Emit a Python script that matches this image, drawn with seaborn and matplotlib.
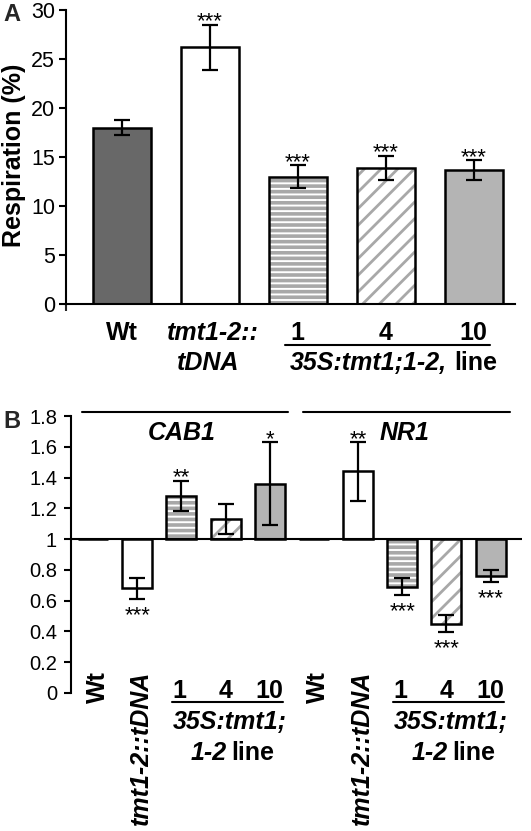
import matplotlib
matplotlib.use("Agg")
import matplotlib.pyplot as plt
import seaborn as sns
import pandas as pd
import numpy as np
from matplotlib.transforms import blended_transform_factory
from matplotlib.patches import Rectangle

sns.set_theme(style="white")
plt.rcParams["font.family"] = ["Liberation Sans", "DejaVu Sans"]
plt.rcParams["hatch.linewidth"] = 2.6

# ---------------- data ----------------
a_keys = ["Wt", "tmt1-2::tDNA", "1", "4", "10"]
a_values = [18.0, 26.2, 13.0, 13.9, 13.7]
a_errors = [0.8, 2.3, 1.15, 1.25, 1.0]
a_stars = ["", "***", "***", "***", "***"]

b_genes = ["CAB1"] * 5 + ["NR1"] * 5
b_lines = ["Wt", "tmt1-2::tDNA", "1", "4", "10"] * 2
b_values = [1.0, 0.68, 1.28, 1.13, 1.36, 1.0, 1.44, 0.69, 0.45, 0.76]
b_errors = [0.0, 0.07, 0.10, 0.10, 0.27, 0.0, 0.19, 0.055, 0.056, 0.04]
b_stars = ["", "***", "**", "", "*", "", "**", "***", "***", "***"]
b_baseline = 1.0

fills = ["#686868", "white", "white", "white", "#b4b4b4"]
hatches = [None, None, "---", "//", None]
hatch_lw = [None, None, 2.6, 2.0, None]
hatch_color = "#a8a8a8"

W, H = 531, 831
fig = plt.figure(figsize=(W / 100, H / 100), dpi=100)


def px_ax(left, right, top, bottom):
    return fig.add_axes([left / W, 1 - bottom / H, (right - left) / W, (bottom - top) / H])


def style_bars(ax, n_groups):
    bars = sorted([p for p in ax.patches], key=lambda p: p.get_x())
    for i, patch in enumerate(bars):
        k = i % n_groups
        patch.set_facecolor(fills[k])
        if hatches[k]:
            patch.set_hatch(hatches[k])
            patch.set_edgecolor(hatch_color)
            patch.set_linewidth(0)
            if hasattr(patch, "set_hatch_linewidth"):
                patch.set_hatch_linewidth(hatch_lw[k])
            ax.add_patch(Rectangle(patch.get_xy(), patch.get_width(), patch.get_height(),
                                   fill=False, edgecolor="black", linewidth=1.8,
                                   zorder=patch.get_zorder() + 0.1))
        else:
            patch.set_edgecolor("black")
            patch.set_linewidth(1.8)


def add_stars(ax, xs, vals, errs, stars, base, size=16):
    for x, v, e, s in zip(xs, vals, errs, stars):
        if not s:
            continue
        if v >= base:
            ax.annotate(s, (x, v + e), xytext=(0, -2), textcoords="offset points",
                        ha="center", va="baseline", fontsize=size, color="black")
        else:
            ax.annotate(s, (x, v - e), xytext=(0, -16), textcoords="offset points",
                        ha="center", va="baseline", fontsize=size, color="black")


# ---------------- Panel A ----------------
axA = px_ax(66, 515, 10, 304)
dfA = pd.DataFrame({"key": a_keys, "value": a_values})
sns.barplot(data=dfA, x="key", y="value", order=a_keys, hue="key", hue_order=a_keys,
            legend=False, width=0.66, errorbar=None, ax=axA, palette=dict(zip(a_keys, fills)))
style_bars(axA, 5)
xa = np.arange(len(a_keys))
axA.errorbar(xa, a_values, yerr=a_errors, fmt="none", ecolor="black", elinewidth=1.6,
             capsize=6, capthick=1.6, zorder=5)
add_stars(axA, xa, a_values, a_errors, a_stars, 0)
axA.set_xlim(-0.636, 4.47)
axA.set_ylim(0, 30)
axA.set_yticks(np.arange(0, 31, 5))
axA.set_xticks([])
axA.set_xticks([-0.636], minor=True)
axA.tick_params(axis="x", which="minor", length=5, width=1.5, direction="out", bottom=True)
axA.tick_params(axis="y", labelsize=15.5, length=5, width=1.5, direction="out", left=True, pad=3,
                colors="black")
axA.set_xlabel("")
axA.set_ylabel("")
for s in ["top", "right"]:
    axA.spines[s].set_visible(False)
for s in ["left", "bottom"]:
    axA.spines[s].set_linewidth(1.5)
    axA.spines[s].set_color("black")

trA = blended_transform_factory(axA.transData, fig.transFigure)
fy = lambda p: 1 - p / H
lab = dict(fontsize=18, fontweight="bold", color="black")
axA.text(0, fy(340), "Wt", ha="center", va="baseline", transform=trA, **lab)
axA.text(1.04, fy(340), "tmt1-2::", ha="center", va="baseline", style="italic", transform=trA, **lab)
axA.text(0.98, fy(370), "tDNA", ha="center", va="baseline", style="italic", transform=trA, **lab)
for i in (2, 3, 4):
    axA.text(i, fy(340), a_keys[i], ha="center", va="baseline", transform=trA, **lab)
axA.plot([(285 - 122) / 88, (490 - 122) / 88], [fy(345), fy(345)], color="black", lw=1.5,
         transform=trA, clip_on=False)
axA.text((447 - 122) / 88, fy(370), "35S:tmt1;1-2,", ha="right", va="baseline", style="italic",
         transform=trA, **lab)
axA.text((455 - 122) / 88, fy(370), "line", ha="left", va="baseline", transform=trA, **lab)
fig.text(14 / W, fy(155), "Respiration (%)", rotation=90, ha="center", va="center", **lab)
fig.text(3 / W, fy(21), "A", ha="left", va="baseline", fontsize=17, fontweight="bold")

# ---------------- Panel B ----------------
axB = px_ax(71, 522, 416, 693)
b_keys = [g + " " + l for g, l in zip(b_genes, b_lines)]
dfB = pd.DataFrame({"key": b_keys, "delta": np.array(b_values) - b_baseline})
sns.barplot(data=dfB, x="key", y="delta", order=b_keys, hue="key", hue_order=b_keys,
            legend=False, width=0.68, errorbar=None, ax=axB, bottom=b_baseline,
            palette=dict(zip(b_keys, fills * 2)))
style_bars(axB, 5)
xb = np.arange(len(b_keys))
mask = np.array(b_errors) > 0
axB.errorbar(xb[mask], np.array(b_values)[mask], yerr=np.array(b_errors)[mask], fmt="none",
             ecolor="black", elinewidth=1.6, capsize=6, capthick=1.6, zorder=5)
add_stars(axB, xb, b_values, b_errors, b_stars, b_baseline)
axB.set_xlim(-0.5, 9.71)
axB.set_ylim(0, 1.8)
axB.set_yticks(np.round(np.arange(0, 1.81, 0.2), 1))
axB.set_yticklabels(["0", "0.2", "0.4", "0.6", "0.8", "1", "1.2", "1.4", "1.6", "1.8"])
axB.set_xticks([])
axB.tick_params(axis="y", labelsize=14.5, length=5, width=1.5, direction="out", left=True, pad=5,
                colors="black")
axB.set_xlabel("")
axB.set_ylabel("")
for s in ["top", "right", "bottom"]:
    axB.spines[s].set_visible(False)
axB.spines["left"].set_linewidth(1.5)
axB.spines["left"].set_color("black")
axB.axhline(b_baseline, color="black", lw=1.5, zorder=4)

trB = blended_transform_factory(axB.transData, fig.transFigure)
pxb = lambda p: (p - 93) / 44.17
for x0, x1 in [(82, 288), (303, 510)]:
    axB.plot([pxb(x0), pxb(x1)], [fy(412), fy(412)], color="black", lw=1.5, transform=trB,
             clip_on=False)
axB.text(2, fy(440), "CAB1", ha="center", va="baseline", style="italic", transform=trB, **lab)
axB.text(7.05, fy(440), "NR1", ha="center", va="baseline", style="italic", transform=trB, **lab)
for g in (0, 5):
    axB.text(g + 0.1, fy(671), "Wt", rotation=90, ha="center", va="top", transform=trB, **lab)
    axB.text(g + 1.08, fy(671), "tmt1-2::tDNA", rotation=90, ha="center", va="top",
             style="italic", transform=trB, **lab)
    for j in (2, 3, 4):
        axB.text(g + j - (0.05 if j == 2 else 0), fy(698), b_lines[j], ha="center",
                 va="baseline", transform=trB, **lab)
    axB.plot([g + 1.79, g + 4.30], [fy(702), fy(702)], color="black", lw=1.5, transform=trB,
             clip_on=False)
    axB.text(g + 3.1, fy(729), "35S:tmt1;", ha="center", va="baseline", style="italic",
             transform=trB, **lab)
    axB.text(g + 3.07 - 0.05, fy(760), "1-2", ha="right", va="baseline", style="italic",
             transform=trB, **lab)
    axB.text(g + 3.07 + 0.05, fy(760), "line", ha="left", va="baseline", transform=trB, **lab)
fig.text(3 / W, fy(428), "B", ha="left", va="baseline", fontsize=17, fontweight="bold")

fig.savefig("out.png", dpi=100, facecolor="white")
